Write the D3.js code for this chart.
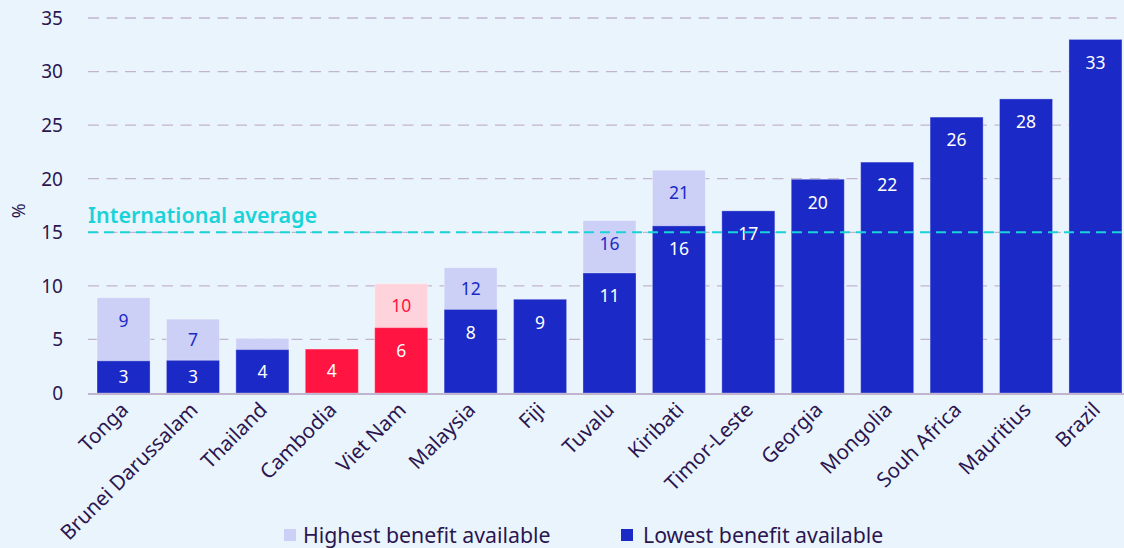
<!DOCTYPE html>
<html>
<head>
<meta charset="utf-8">
<script src="https://cdn.jsdelivr.net/npm/d3@7"></script>
<style>
html,body{margin:0;padding:0;background:#eaf4fd;}
svg{display:block;font-family:"Noto Sans","Open Sans",sans-serif;}
</style>
</head>
<body>
<svg id="chart" width="1124" height="548"></svg>
<script>
const countries = ["Tonga","Brunei Darussalam","Thailand","Cambodia","Viet Nam","Malaysia","Fiji","Tuvalu","Kiribati","Timor-Leste","Georgia","Mongolia","Souh Africa","Mauritius","Brazil"];
const lowest  = [3.0, 3.05, 4.05, 4.1, 6.1, 7.8, 8.75, 11.2, 15.6, 17.0, 19.95, 21.55, 25.75, 27.45, 33.0];
const highest = [8.9, 6.9, 5.1, null, 10.2, 11.7, null, 16.1, 20.8, null, null, null, null, null, null];
const lowLabels  = [3, 3, 4, 4, 6, 8, 9, 11, 16, 17, 20, 22, 26, 28, 33];
const highLabels = [9, 7, null, null, 10, 12, null, 16, 21, null, null, null, null, null, null];
const highlighted = ["Cambodia", "Viet Nam"];
const yTicks = [0, 5, 10, 15, 20, 25, 30, 35];
const internationalAverage = 15;
const legendItems = ["Highest benefit available", "Lowest benefit available"];

const C = {
  low: "#1b2ac6", high: "#ccd0f7", red: "#ff1442", pink: "#ffd3dc",
  text: "#2b1650", grid: "#c1b4cf", avg: "#1ad3d9"
};

const svg = d3.select("#chart");
const pLeft = 88, pRight = 1124, pTop = 18, pBottom = 393;

const y = d3.scaleLinear().domain([0, 35]).range([pBottom, pTop]);
const x = d3.scaleBand().domain(countries).range([pLeft, 1131]).paddingInner(0.236).paddingOuter(0.13);

// gridlines
svg.append("g").selectAll("line").data(yTicks.filter(d => d > 0)).join("line")
  .attr("x1", pLeft).attr("x2", pRight)
  .attr("y1", d => y(d)).attr("y2", d => y(d))
  .attr("stroke", C.grid).attr("stroke-width", 1.3).attr("stroke-dasharray", "11,7.5");

// y tick labels
svg.append("g").selectAll("text").data(yTicks).join("text")
  .attr("x", 63).attr("y", d => y(d)).attr("dy", "0.36em")
  .attr("text-anchor", "end").attr("font-size", 19).attr("fill", C.text)
  .text(d => d);

svg.append("text")
  .attr("transform", `translate(25,${y(17)}) rotate(-90)`)
  .attr("text-anchor", "middle").attr("font-size", 18).attr("fill", C.text)
  .text("%");

const rows = countries.map((c, i) => ({
  c, lo: lowest[i], hi: highest[i], loL: lowLabels[i], hiL: highLabels[i],
  hl: highlighted.includes(c)
}));

const bw = x.bandwidth();
const g = svg.append("g");

// highest bars (background)
g.selectAll("rect.hi").data(rows.filter(d => d.hi != null)).join("rect")
  .attr("class", "hi")
  .attr("x", d => x(d.c)).attr("width", bw)
  .attr("y", d => y(d.hi)).attr("height", d => y(0) - y(d.hi))
  .attr("fill", d => d.hl ? C.pink : C.high)
  .attr("stroke", "#ffffff").attr("stroke-opacity", 0.35).attr("stroke-width", 1);

// lowest bars
g.selectAll("rect.lo").data(rows).join("rect")
  .attr("class", "lo")
  .attr("x", d => x(d.c)).attr("width", bw)
  .attr("y", d => y(d.lo)).attr("height", d => y(0) - y(d.lo))
  .attr("fill", d => d.hl ? C.red : C.low)
  .attr("stroke", "#ffffff").attr("stroke-opacity", 0.3).attr("stroke-width", 1);

function labelY(topV, botV) {
  const t = y(topV), b = y(botV);
  return t + Math.min(23, (b - t) / 2);
}

// high labels
g.selectAll("text.hl").data(rows.filter(d => d.hiL != null)).join("text")
  .attr("class", "hl")
  .attr("x", d => x(d.c) + bw / 2).attr("y", d => labelY(d.hi, d.lo))
  .attr("dy", "0.36em").attr("text-anchor", "middle").attr("font-size", 17.5)
  .attr("fill", d => d.hl ? C.red : C.low)
  .text(d => d.hiL);

// low labels
g.selectAll("text.ll").data(rows).join("text")
  .attr("class", "ll")
  .attr("x", d => x(d.c) + bw / 2).attr("y", d => labelY(d.lo, 0))
  .attr("dy", "0.36em").attr("text-anchor", "middle").attr("font-size", 17.5)
  .attr("fill", "#ffffff")
  .text(d => d.loL);

// baseline
svg.append("line").attr("x1", pLeft).attr("x2", pRight)
  .attr("y1", y(0) + 1).attr("y2", y(0) + 1)
  .attr("stroke", C.grid).attr("stroke-width", 2.2);

// international average
svg.append("line").attr("x1", pLeft).attr("x2", pRight)
  .attr("y1", y(internationalAverage)).attr("y2", y(internationalAverage))
  .attr("stroke", C.avg).attr("stroke-width", 2).attr("stroke-dasharray", "10,6");
svg.append("text").attr("x", pLeft).attr("y", y(internationalAverage) - 9)
  .attr("font-size", 21.5).attr("font-weight", 600).attr("fill", C.avg)
  .text("International average");

// x labels
svg.append("g").selectAll("text").data(countries).join("text")
  .attr("transform", d => `translate(${x(d) + bw / 2 + 1},${pBottom + 13}) rotate(-45)`)
  .attr("text-anchor", "end").attr("dy", "0.35em").attr("font-size", 20.5).attr("fill", C.text)
  .text(d => d);

// legend
const lg = svg.append("g");
const legendX = [284, 621];
const legendColors = [C.high, C.low];
legendItems.forEach((t, i) => {
  lg.append("rect").attr("x", legendX[i]).attr("y", 529).attr("width", 12).attr("height", 12).attr("fill", legendColors[i]);
  lg.append("text").attr("x", legendX[i] + (i ? 22 : 19)).attr("y", 535).attr("dy", "0.36em")
    .attr("font-size", 21.3).attr("fill", C.text).text(t);
});
</script>
</body>
</html>
